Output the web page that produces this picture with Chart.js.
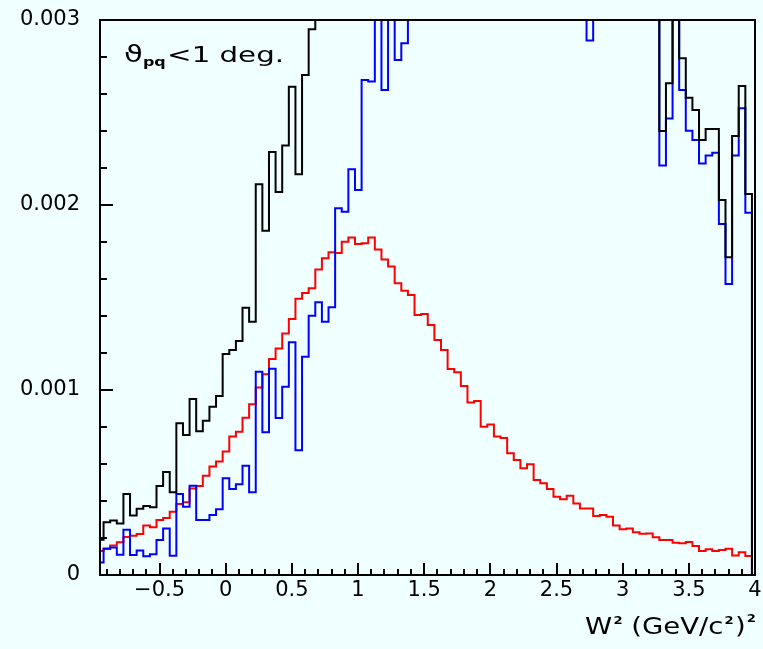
<!DOCTYPE html>
<html>
<head>
<meta charset="utf-8">
<script src="https://cdn.jsdelivr.net/npm/chart.js@4.4.1/dist/chart.umd.min.js"></script>
<style>
  html, body { margin: 0; padding: 0; background: #f0ffff; }
  canvas { display: block; }
</style>
</head>
<body>
<canvas id="c" width="763" height="649"></canvas>
<script>
// ---- histogram binning (W^2 in (GeV/c^2)^2) ----
const HIST_LOW = -0.973;
const BIN_WIDTH = 0.05;
const N_BINS = 99;

// ---- tick labels ----
const xTickValues = [-0.5, 0, 0.5, 1, 1.5, 2, 2.5, 3, 3.5, 4];
const yTickValues = [0, 0.001, 0.002, 0.003];

// ---- series (bin contents; values above 0.003 are off-scale estimates) ----
const blackValues = [
  0.00019, 0.000285, 0.000294, 0.000279, 0.000438, 0.000321, 0.000358, 0.000373, 0.000366, 0.000481,
  0.000557, 0.000447, 0.00082, 0.000757, 0.000951, 0.000777, 0.000834, 0.00091, 0.000968, 0.001195,
  0.001216, 0.001265, 0.001445, 0.001369, 0.002112, 0.001861, 0.002286, 0.00207, 0.002321, 0.002639,
  0.002166, 0.002703, 0.00295, 0.0031, 0.00325, 0.0034, 0.0036, 0.00375, 0.0039, 0.004,
  0.0041, 0.0042, 0.0043, 0.0044, 0.0045, 0.0046, 0.0047, 0.0048, 0.0049, 0.005,
  0.0051, 0.0052, 0.0053, 0.0054, 0.0055, 0.0055, 0.0056, 0.0056, 0.0055, 0.0054,
  0.0053, 0.0052, 0.005, 0.0049, 0.0047, 0.0045, 0.0044, 0.0042, 0.0041, 0.0039,
  0.0038, 0.0037, 0.0036, 0.0035, 0.0034, 0.0035, 0.0036, 0.0037, 0.0038, 0.0039,
  0.00385, 0.0037, 0.0036, 0.0034, 0.0033, 0.0024, 0.002658, 0.0032, 0.002793, 0.00258,
  0.002514, 0.002351, 0.002411, 0.002411, 0.002027, 0.001717, 0.002373, 0.002643, 0.002059
];
const blueValues = [
  0.000067, 0.000143, 0.000148, 0.00011, 0.000245, 0.000108, 0.000133, 0.000102, 0.000112, 0.000189,
  0.000252, 0.000104, 0.000438, 0.000369, 0.000483, 0.000297, 0.000297, 0.000324, 0.000355, 0.000523,
  0.000465, 0.00049, 0.000591, 0.000447, 0.001099, 0.000771, 0.001115, 0.000849, 0.001018, 0.001258,
  0.000674, 0.00118, 0.001402, 0.001474, 0.001369, 0.001447, 0.001982, 0.001964, 0.002193, 0.002081,
  0.002676, 0.002667, 0.00305, 0.002622, 0.0031, 0.002784, 0.002874, 0.00305, 0.0032, 0.0034,
  0.0036, 0.0039, 0.0041, 0.0043, 0.0045, 0.0046, 0.0047, 0.0048, 0.0048, 0.0047,
  0.0046, 0.0045, 0.0043, 0.0042, 0.004, 0.0038, 0.0037, 0.0035, 0.0034, 0.0033,
  0.0032, 0.00315, 0.0031, 0.00305, 0.002889, 0.0031, 0.0032, 0.0033, 0.0034, 0.0035,
  0.0036, 0.0035, 0.0034, 0.0033, 0.0032, 0.002213, 0.002468, 0.0031, 0.002622, 0.002402,
  0.002351, 0.002225, 0.002267, 0.002283, 0.001897, 0.001573, 0.002267, 0.002523, 0.001958
];
const redValues = [
  0.00013, 0.00014, 0.00016, 0.000177, 0.000205, 0.000212, 0.000222, 0.000268, 0.000258, 0.000297,
  0.000308, 0.000342, 0.000384, 0.000393, 0.000468, 0.000481, 0.000537, 0.000586, 0.000613, 0.000667,
  0.000748, 0.000775, 0.00085, 0.000923, 0.001013, 0.001085, 0.001168, 0.001225, 0.001306, 0.001384,
  0.001493, 0.001525, 0.00155, 0.001652, 0.001712, 0.001745, 0.00174, 0.001802, 0.001825, 0.001789,
  0.001793, 0.001825, 0.00176, 0.001706, 0.001667, 0.001577, 0.001537, 0.001514, 0.001405, 0.001411,
  0.001351, 0.00127, 0.001216, 0.001114, 0.001096, 0.001022, 0.000933, 0.000941, 0.000802, 0.000813,
  0.000748, 0.000741, 0.000658, 0.000622, 0.000577, 0.000598, 0.000514, 0.000496, 0.000465, 0.000423,
  0.000409, 0.000429, 0.000387, 0.00036, 0.00036, 0.000319, 0.000324, 0.000315, 0.000267, 0.000247,
  0.000252, 0.000231, 0.000223, 0.000225, 0.000204, 0.000189, 0.000189, 0.000175, 0.000171, 0.000178,
  0.000157, 0.00013, 0.000139, 0.00013, 0.000135, 0.000142, 0.000106, 0.000123, 0.000103
];

const BG = '#f0ffff';
const FONT = '"DejaVu Sans", "Liberation Sans", sans-serif';

// bin edges of the histogram
const binEdges = [];
for (let k = 0; k <= N_BINS; k++) binEdges.push(+(HIST_LOW + BIN_WIDTH * k).toFixed(4));

// outline of a histogram as step points (closed to zero at both ends)
function histOutline(values) {
  const pts = [{ x: binEdges[0], y: 0 }];
  values.forEach((v, k) => pts.push({ x: binEdges[k], y: v }));
  const last = values.length;
  pts.push({ x: binEdges[last], y: values[last - 1] });
  pts.push({ x: binEdges[last], y: 0 });
  return pts;
}

function formatX(v) {
  return v < 0 ? '\u2212' + String(Math.abs(v)) : String(v);
}

// draw a run of text pieces, stretched horizontally to span [x0, x1]
function drawPieces(ctx, pieces, x0, x1, baseline) {
  let total = 0;
  pieces.forEach(p => { ctx.font = p.font; p.w = ctx.measureText(p.t).width; total += p.w + (p.gap || 0); });
  const sx = (x1 - x0) / total;
  ctx.save();
  ctx.translate(x0, baseline);
  ctx.scale(sx, 1);
  let xp = 0;
  pieces.forEach(p => {
    ctx.font = p.font;
    ctx.fillText(p.t, xp, p.dy || 0);
    xp += p.w + (p.gap || 0);
  });
  ctx.restore();
}

const rootStyle = {
  id: 'rootStyle',
  beforeDraw(chart) {
    const { ctx, width, height } = chart;
    ctx.save();
    ctx.fillStyle = BG;
    ctx.fillRect(0, 0, width, height);
    ctx.restore();
  },
  afterDatasetsDraw(chart) {
    const { ctx, chartArea: a, scales } = chart;
    const xs = scales.x, ys = scales.y;
    ctx.save();
    ctx.strokeStyle = '#000';
    ctx.lineWidth = 2;
    ctx.beginPath();
    // x ticks (inward): minor every 0.1, major every 0.5
    for (let k = -9; k <= 40; k++) {
      const px = Math.round(xs.getPixelForValue(k / 10));
      const len = (k % 5 === 0) ? 12 : 6;
      ctx.moveTo(px, a.bottom);
      ctx.lineTo(px, a.bottom - len);
    }
    // y ticks (inward): minor every 0.0002, major every 0.001
    for (let k = 0; k <= 15; k++) {
      const py = Math.round(ys.getPixelForValue(k * 0.0002));
      const len = (k % 5 === 0) ? 13 : 7;
      ctx.moveTo(a.left, py);
      ctx.lineTo(a.left + len, py);
    }
    ctx.stroke();
    // frame
    ctx.strokeRect(a.left, a.top, a.right - a.left, a.bottom - a.top);

    ctx.fillStyle = '#000';
    ctx.textBaseline = 'alphabetic';
    ctx.textAlign = 'left';

    // annotation  ϑ_pq < 1 deg.
    drawPieces(ctx, [
      { t: '\u03D1', font: '23px ' + FONT },
      { t: 'pq', font: 'bold 12px ' + FONT, dy: 4, gap: 1 },
      { t: '<1 deg.', font: '22px ' + FONT }
    ], 124, 284, 62);

    // axis title  W^2 (GeV/c^2)^2
    drawPieces(ctx, [
      { t: 'W', font: '23px ' + FONT, gap: 1 },
      { t: '2', font: 'bold 11px ' + FONT, dy: -10 },
      { t: ' (GeV/c', font: '23px ' + FONT, gap: 1 },
      { t: '2', font: 'bold 11px ' + FONT, dy: -10, gap: 1 },
      { t: ')', font: '23px ' + FONT, gap: 1 },
      { t: '2', font: 'bold 11px ' + FONT, dy: -12 }
    ], 585, 756, 634);
    ctx.restore();
  }
};

const lineDs = (values, color) => ({
  data: histOutline(values),
  borderColor: color,
  borderWidth: 2,
  pointRadius: 0,
  pointHoverRadius: 0,
  tension: 0,
  stepped: 'before',
  fill: false
});

new Chart(document.getElementById('c'), {
  type: 'line',
  data: {
    datasets: [
      lineDs(blackValues, '#000000'),
      lineDs(blueValues, '#0000ff'),
      lineDs(redValues, '#ff0000')
    ]
  },
  options: {
    responsive: false,
    animation: false,
    devicePixelRatio: 1,
    layout: { padding: { top: 20, right: 8, left: 0, bottom: 0 } },
    plugins: { legend: { display: false }, tooltip: { enabled: false } },
    events: [],
    scales: {
      x: {
        type: 'linear',
        min: -0.95,
        max: 4,
        grid: { display: false, drawTicks: false },
        border: { display: false },
        afterBuildTicks: s => { s.ticks = xTickValues.map(v => ({ value: v })); },
        afterFit: s => { s.height = 74; s.paddingLeft = 0; s.paddingRight = 0; },
        ticks: {
          autoSkip: false,
          maxRotation: 0,
          padding: 3,
          color: '#000',
          font: { family: FONT, size: 21 },
          callback: v => formatX(v)
        }
      },
      y: {
        type: 'linear',
        min: 0,
        max: 0.003,
        grid: { display: false, drawTicks: false },
        border: { display: false },
        afterBuildTicks: s => { s.ticks = yTickValues.map(v => ({ value: v })); },
        afterFit: s => { s.width = 100; s.paddingTop = 0; s.paddingBottom = 0; },
        ticks: {
          padding: 20,
          color: '#000',
          font: { family: FONT, size: 21 },
          callback: v => (v === 0 ? '0' : v.toFixed(3))
        }
      }
    }
  },
  plugins: [rootStyle]
});
</script>
</body>
</html>
